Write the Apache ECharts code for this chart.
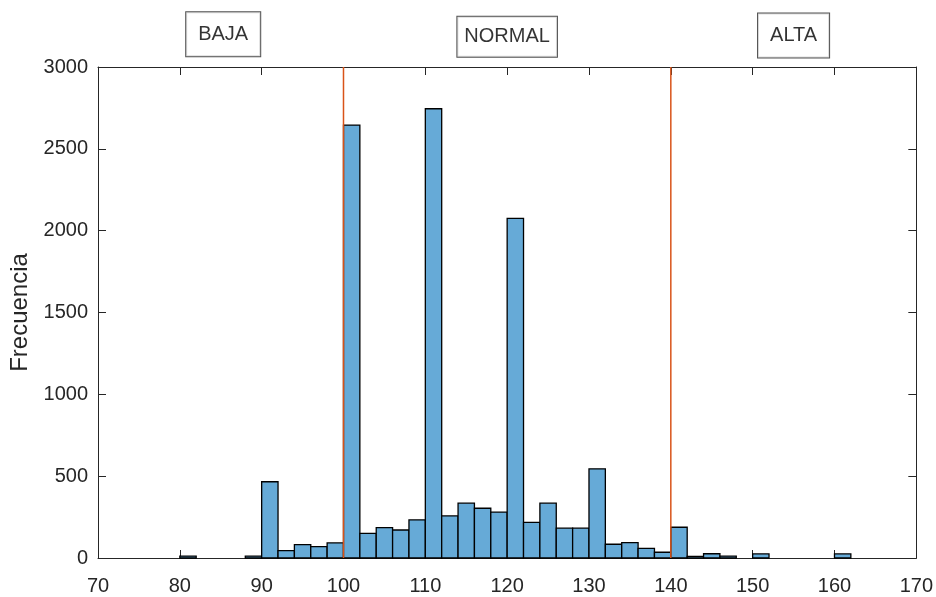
<!DOCTYPE html>
<html>
<head>
<meta charset="utf-8">
<script src="https://cdn.jsdelivr.net/npm/echarts@6/dist/echarts.min.js"></script>
<style>
  html, body { margin: 0; padding: 0; background: #fff; }
  #chart { width: 936px; height: 597px; }
</style>
</head>
<body>
<div id="chart"></div>
<script>
// histogram bins (width 2)
const binWidth = 2;
const binStarts = [80, 82, 84, 86, 88, 90, 92, 94, 96, 98, 100, 102, 104, 106, 108, 110, 112, 114, 116, 118,
  120, 122, 124, 126, 128, 130, 132, 134, 136, 138, 140, 142, 144, 146, 148, 150, 152, 154, 156, 158, 160];
const binCounts = [12, 0, 0, 0, 12, 466, 45, 82, 70, 92, 2645, 150, 186, 171, 233, 2745, 257, 335, 304, 280,
  2075, 218, 335, 182, 182, 545, 84, 94, 59, 35, 188, 10, 26, 12, 0, 25, 0, 0, 0, 0, 25];

// limit lines
const limitValues = [100, 140];

// zone labels
const zoneNames = ["BAJA", "NORMAL", "ALTA"];
const zoneX = [85.3, 120, 155];
const zoneY = [3200, 3185, 3192];

const xTicks = { min: 70, max: 170, interval: 10 };
const yTicks = { min: 0, max: 3000, interval: 500 };

const axisColor = "#262626";
const font = "'Liberation Sans', Arial, sans-serif";

const chartDom = document.getElementById("chart");
const myChart = echarts.init(chartDom, null, { renderer: "canvas" });

const histData = [];
for (let i = 0; i < binStarts.length; i++) {
  if (binCounts[i] > 0) histData.push([binStarts[i], binStarts[i] + binWidth, binCounts[i]]);
}

const axisCommon = {
  axisLine: { show: true, onZero: false, lineStyle: { color: axisColor, width: 1 } },
  axisTick: { show: true, inside: true, length: 8, lineStyle: { color: axisColor } },
  splitLine: { show: false },
};

const option = {
  animation: false,
  textStyle: { fontFamily: font },
  grid: { left: 97, right: 18, top: 67, bottom: 39 },
  xAxis: [
    {
      type: "value",
      position: "bottom",
      ...xTicks,
      ...axisCommon,
      axisLabel: { color: axisColor, fontSize: 20, margin: 18, fontFamily: font },
    },
    {
      type: "value",
      position: "top",
      ...xTicks,
      ...axisCommon,
      axisLabel: { show: false },
    },
  ],
  yAxis: [
    {
      type: "value",
      position: "left",
      ...yTicks,
      ...axisCommon,
      name: "Frecuencia",
      nameLocation: "middle",
      nameGap: 66,
      nameTextStyle: { color: axisColor, fontSize: 24, fontFamily: font },
      axisLabel: {
        color: axisColor,
        fontSize: 20,
        margin: 10,
        fontFamily: font,
        formatter: (v) => String(v),
      },
    },
    {
      type: "value",
      position: "right",
      ...yTicks,
      ...axisCommon,
      axisLabel: { show: false },
    },
  ],
  series: [
    {
      type: "custom",
      name: "hist",
      renderItem: function (params, api) {
        const p0 = api.coord([api.value(0), 0]);
        const p1 = api.coord([api.value(1), api.value(2)]);
        return {
          type: "rect",
          shape: { x: p0[0], y: p1[1], width: p1[0] - p0[0], height: p0[1] - p1[1] },
          style: { fill: "rgb(102,170,215)", stroke: "#000", lineWidth: 1.3 },
        };
      },
      encode: { x: [0, 1], y: 2 },
      data: histData,
      z: 2,
    },
    ...limitValues.map((v) => ({
      type: "line",
      data: [[v, yTicks.min], [v, yTicks.max]],
      symbol: "none",
      lineStyle: { color: "#D95319", width: 1.5 },
      z: 3,
    })),
    {
      type: "scatter",
      clip: false,
      symbolSize: 0,
      silent: true,
      data: zoneNames.map((n, i) => ({
        value: [zoneX[i], zoneY[i]],
        name: n,
        label: { padding: n === "NORMAL" ? [10, 7, 10, 7] : [12, 12, 12, 12] },
      })),
      label: {
        show: true,
        position: "inside",
        formatter: "{b}",
        color: "#000",
        fontSize: 20,
        fontFamily: font,
        backgroundColor: "#fff",
        borderColor: "#262626",
        borderWidth: 1,
      },
      z: 5,
    },
  ],
};

myChart.setOption(option);
</script>
</body>
</html>
